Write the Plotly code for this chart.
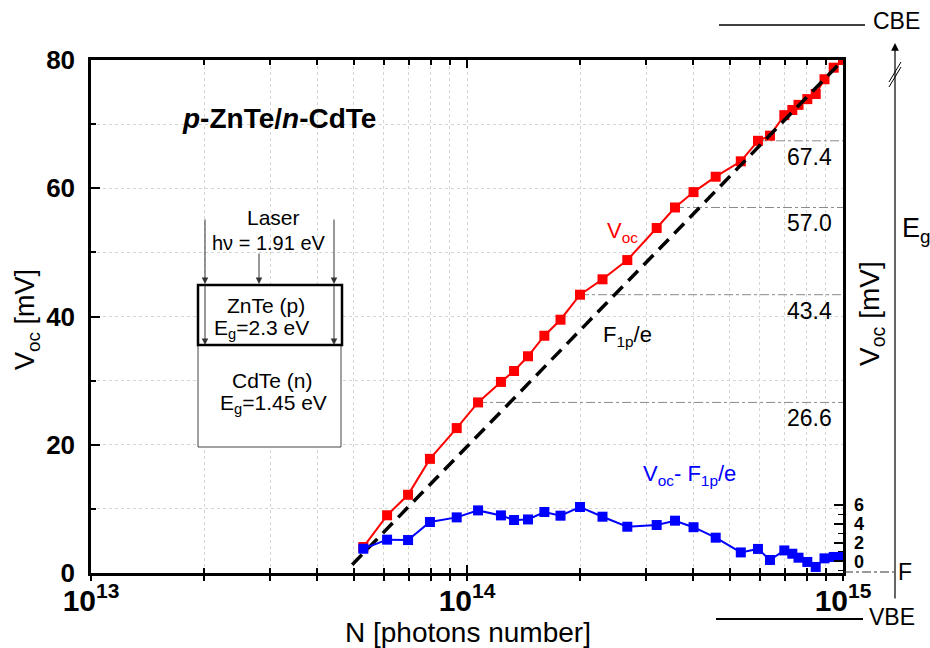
import plotly.graph_objects as go

# ---- data ----------------------------------------------------------------
# photon number N of the laser pulse
N = [5.30e13, 6.13e13, 6.97e13, 7.97e13, 9.39e13, 1.070e14, 1.231e14, 1.334e14,
     1.453e14, 1.606e14, 1.773e14, 1.998e14, 2.293e14, 2.669e14, 3.195e14,
     3.574e14, 4.004e14, 4.586e14, 5.348e14, 5.941e14, 6.394e14, 6.981e14,
     7.332e14, 7.615e14, 8.037e14, 8.461e14, 8.929e14, 9.447e14, 1.0e15]
# open-circuit voltage [mV]
voc = [4.05, 9.0, 12.2, 17.8, 22.6, 26.6, 29.8, 31.5, 33.8, 37.0, 39.5, 43.4,
       45.8, 48.8, 53.8, 57.0, 59.4, 61.8, 64.2, 67.4, 68.2, 71.4, 72.2, 73.0,
       73.9, 74.7, 77.0, 78.8, 80.0]
# Voc - F1p/e [mV], right-hand scale
voc_minus_f = [1.34, 2.30, 2.26, 4.17, 4.66, 5.40, 4.87, 4.38, 4.44, 5.23, 4.84,
               5.76, 4.73, 3.67, 3.85, 4.31, 3.62, 2.51, 0.95, 1.32, 0.15, 1.16,
               0.81, 0.39, -0.06, -0.59, 0.32, 0.47, 0.47]
# quasi-Fermi level of holes F1p/e [mV]
f1p_N = [4.95e13, 1.0e15]
f1p = [1.3, 80.0]
# Voc values marked with horizontal guides
marked = [67.4, 57.0, 43.4, 26.6]

x_major = [1e13, 1e14, 1e15]
x_major_text = ["<b>10<sup>13</sup></b>", "<b>10<sup>14</sup></b>", "<b>10<sup>15</sup></b>"]
x_minor = [m * 10.0 ** d for d in (13, 14) for m in range(2, 10)]
y_major = [0, 20, 40, 60, 80]
y_minor = [10, 30, 50, 70]
y2_major = [0, 2, 4, 6]
y2_minor = [-1, 1, 3, 5]

# ---- geometry helpers (pixel -> paper) ------------------------------------
W, H = 930, 648
L, R, T, B = 91, 87, 60, 75
PW, PH = W - L - R, H - T - B
FONT = "Arial, 'Liberation Sans', sans-serif"


def px(x):
    return (x - L) / PW


def py(y):
    return (H - B - y) / PH


GRID = dict(showgrid=True, gridcolor="#d4d4d4", gridwidth=1, griddash="dot")

fig = go.Figure()

# horizontal guides from marked Voc points to the right frame
for v in marked:
    i = voc.index(v)
    fig.add_trace(go.Scatter(x=[N[i], x_major[-1]], y=[v, v], mode="lines",
                             line=dict(color="#8a8a8a", width=1, dash="dashdot"),
                             hoverinfo="skip", showlegend=False))

fig.add_trace(go.Scatter(x=N, y=voc, mode="lines+markers", name="Voc",
                         line=dict(color="#ff0000", width=2),
                         marker=dict(symbol="square", size=10, color="#ff0000"),
                         showlegend=False))

fig.add_trace(go.Scatter(x=f1p_N, y=f1p, mode="lines", name="F1p/e",
                         line=dict(color="black", width=3.5, dash="14px,8px"),
                         showlegend=False))

fig.add_trace(go.Scatter(x=N, y=voc_minus_f, mode="lines+markers", yaxis="y2",
                         name="Voc - F1p/e",
                         line=dict(color="#0000ff", width=2),
                         marker=dict(symbol="square", size=10, color="#0000ff"),
                         showlegend=False))

# dummy traces so the auxiliary tick axes are drawn
fig.add_trace(go.Scatter(x=[1e14], y=[40], xaxis="x2", mode="markers",
                         marker=dict(opacity=0), hoverinfo="skip", showlegend=False))
fig.add_trace(go.Scatter(x=[1e14], y=[40], xaxis="x3", mode="markers",
                         marker=dict(opacity=0), hoverinfo="skip", showlegend=False))

xr = [13, 15]
fig.update_layout(
    width=W, height=H, autosize=False,
    margin=dict(l=L, r=R, t=T, b=B, pad=0),
    paper_bgcolor="white", plot_bgcolor="white",
    font=dict(family=FONT, color="black"),
    showlegend=False,
    xaxis=dict(type="log", range=xr, tickmode="array", tickvals=x_major,
               ticktext=x_major_text, tickfont=dict(size=30),
               ticklabelstandoff=-6,
               ticks="outside", ticklen=5, tickwidth=2, tickcolor="black",
               showline=True, linewidth=2.5, linecolor="black", zeroline=False,
               minor=dict(tickmode="array", tickvals=x_minor, ticks="outside",
                          ticklen=5, tickwidth=1.5, tickcolor="black", **GRID),
               **GRID),
    xaxis2=dict(type="log", range=xr, overlaying="x", side="top", anchor="y",
                tickmode="array", tickvals=x_major, showticklabels=False,
                ticks="inside", ticklen=8, tickwidth=2, tickcolor="black",
                showline=True, linewidth=2.5, linecolor="black", showgrid=False,
                zeroline=False,
                minor=dict(tickmode="array", tickvals=x_minor, ticks="inside",
                           ticklen=5, tickwidth=1.5, tickcolor="black", showgrid=False)),
    xaxis3=dict(type="log", range=xr, overlaying="x", side="bottom", anchor="y",
                tickmode="array", tickvals=x_major, showticklabels=False,
                ticks="inside", ticklen=8, tickwidth=2, tickcolor="black",
                showline=False, showgrid=False, zeroline=False,
                minor=dict(tickmode="array", tickvals=x_minor, ticks="inside",
                           ticklen=5, tickwidth=1.5, tickcolor="black", showgrid=False)),
    yaxis=dict(range=[0, 80], tickmode="array", tickvals=y_major,
               tickfont=dict(size=26, weight="bold"), ticklabelstandoff=8,
               ticks="inside", ticklen=9, tickwidth=2, tickcolor="black",
               showline=True, linewidth=2.5, linecolor="black", mirror=True,
               zeroline=False,
               minor=dict(tickmode="array", tickvals=y_minor, ticks="inside",
                          ticklen=5, tickwidth=1.5, tickcolor="black", **GRID),
               **GRID),
    yaxis2=dict(range=[-1.23, 53.1], overlaying="y", side="right", anchor="x",
                tickmode="array", tickvals=y2_major,
                tickfont=dict(size=18, weight="bold"), ticklabelstandoff=10,
                ticks="inside", ticklen=9, tickwidth=1.5, tickcolor="black",
                showline=False, showgrid=False, zeroline=False,
                minor=dict(tickmode="array", tickvals=y2_minor, ticks="inside",
                           ticklen=5, tickwidth=1.2, tickcolor="black",
                           showgrid=False)),
)

shapes = []
# layer stack sketch: CdTe substrate under ZnTe film
shapes.append(dict(type="rect", xref="paper", yref="paper",
                   x0=px(198), x1=px(341), y0=py(447), y1=py(345),
                   line=dict(color="#444444", width=1), fillcolor="white", layer="above"))
shapes.append(dict(type="rect", xref="paper", yref="paper",
                   x0=px(198), x1=px(342), y0=py(345), y1=py(285),
                   line=dict(color="black", width=2.5), fillcolor="white", layer="above"))
# band-edge sketch on the right
shapes.append(dict(type="line", xref="paper", yref="paper",
                   x0=px(719), x1=px(865), y0=py(25), y1=py(25),
                   line=dict(color="black", width=1.5)))
shapes.append(dict(type="line", xref="paper", yref="paper",
                   x0=px(716), x1=px(863), y0=py(619), y1=py(619),
                   line=dict(color="black", width=1.8)))
shapes.append(dict(type="line", xref="paper", yref="paper",
                   x0=px(844), x1=px(894), y0=py(572), y1=py(572),
                   line=dict(color="#333333", width=1, dash="dashdot")))
for off in (0, 5):
    shapes.append(dict(type="line", xref="paper", yref="paper",
                       x0=px(889), x1=px(901), y0=py(82 + off), y1=py(62 + off),
                       line=dict(color="black", width=1)))
fig.update_layout(shapes=shapes)

ann = []


def text(x, y, s, size, color="black", xanchor="center", angle=0):
    ann.append(dict(x=px(x), y=py(y), xref="paper", yref="paper", text=s,
                    showarrow=False, xanchor=xanchor, yanchor="middle",
                    textangle=angle, font=dict(size=size, color=color, family=FONT)))


def arrow(x, y_tail, y_head, width=1, color="#333333"):
    ann.append(dict(x=px(x), y=py(y_head), xref="paper", yref="paper", text="",
                    showarrow=True, ax=0, ay=y_tail - y_head, axref="pixel",
                    ayref="pixel", arrowhead=2, arrowsize=1.3, arrowwidth=width,
                    arrowcolor=color, standoff=0))


# axis titles
text(27, 320, "V<sub>oc</sub> [mV]", 27, angle=-90)
text(468, 632, "N [photons number]", 28)
text(871, 313, "V<sub>oc</sub> [mV]", 28, angle=-90)

# sample label
text(180, 118, "<b><i>p</i>-ZnTe/<i>n</i>-CdTe</b>", 28, xanchor="left")

# layer sketch
text(273, 217, "Laser", 21)
text(269, 243, "h\u03bd = 1.91 eV", 20)
text(266, 305, "ZnTe (p)", 21)
text(261, 329, "E<sub>g</sub>=2.3 eV", 21)
text(272, 380, "CdTe (n)", 21)
text(273, 404, "E<sub>g</sub>=1.45 eV", 21)
for xa in (205, 334):
    arrow(xa, 218, 284)
    arrow(xa, 284, 345)
arrow(259, 252, 284)

# curve labels
text(622, 232, "V<sub>oc</sub>", 22, color="#ff0000")
text(627, 336, "F<sub>1p</sub>/e", 22)
text(689, 475, "V<sub>oc</sub>- F<sub>1p</sub>/e", 22, color="#0000ff")

# values of the marked Voc levels
for v in marked:
    ann.append(dict(x=px(809), y=v, xref="paper", yref="y", yshift=-16,
                    text=f"{v:.1f}", showarrow=False, xanchor="center",
                    yanchor="middle", font=dict(size=23, color="black", family=FONT)))

# band-edge sketch labels
text(896, 21, "CBE", 23)
text(892, 617, "VBE", 23)
text(905, 572, "F", 23)
text(900, 230, "E<sub>g</sub>", 27, xanchor="left")
arrow(895, 600, 43, width=1.2, color="black")

fig.update_layout(annotations=ann)

fig.write_html("out.html")
